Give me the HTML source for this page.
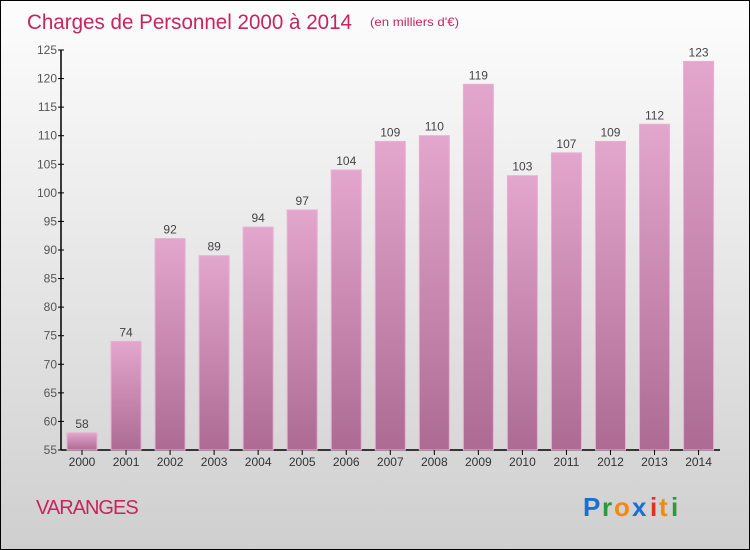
<!DOCTYPE html>
<html><head><meta charset="utf-8"><style>
body{margin:0;width:750px;height:550px;overflow:hidden;font-family:"Liberation Sans",sans-serif}
#c{position:absolute;left:0;top:0;width:748px;height:548px;border:1px solid #000;background:linear-gradient(#fdfdfd,#cfcfcf)}
</style></head><body>
<div id="c">
<svg width="750" height="550" style="position:absolute;left:-1px;top:-1px" id="svg">
<defs><linearGradient id="bg" x1="0" y1="0" x2="0" y2="1"><stop offset="0" stop-color="#e3a6cc"/><stop offset="1" stop-color="#ad6b93"/></linearGradient></defs>
<text x="27" y="29" font-size="21" fill="#c8245e" textLength="325" lengthAdjust="spacingAndGlyphs">Charges de Personnel 2000 à 2014</text>
<text x="370" y="26" font-size="12" fill="#c8245e" textLength="89" lengthAdjust="spacingAndGlyphs">(en milliers d'€)</text>
<g id="g"></g>
<text x="36" y="514" font-size="20" fill="#c8245e" letter-spacing="-1">VARANGES</text>
<g font-size="26" font-weight="bold">
<text x="583" y="516" fill="#1a6fd0">P</text><text x="602" y="516" fill="#2a9a3a">r</text><text x="614" y="516" fill="#f28a12">o</text><text x="632" y="516" fill="#1a6fd0">x</text><text x="650" y="516" fill="#e03020">i</text><text x="659" y="516" fill="#f28a12">t</text><text x="671" y="516" fill="#2a9a3a">i</text>
</g>
</svg></div>
<script>
const years=["2000","2001","2002","2003","2004","2005","2006","2007","2008","2009","2010","2011","2012","2013","2014"];
const values=[58,74,92,89,94,97,104,109,110,119,103,107,109,112,123];
const yTicks=[55,60,65,70,75,80,85,90,95,100,105,110,115,120,125];
const NS="http://www.w3.org/2000/svg";
const g=document.getElementById('g');
const y=v=>450-(v-55)*400/70;
const x=i=>82+i*44.04;
function mk(t,a,p){const e=document.createElementNS(NS,t);for(const k in a)e.setAttribute(k,a[k]);(p||g).appendChild(e);return e;}
let ax=mk('line',{x1:61,y1:50,x2:61,y2:450,stroke:'#000','stroke-width':1.5});


let bx=mk('line',{x1:61,y1:450,x2:720,y2:450,stroke:'#000','stroke-width':1.5});


yTicks.forEach(v=>{
 mk('line',{x1:58,y1:y(v),x2:64,y2:y(v),stroke:'#000'});
 let t=mk('text',{x:57,y:y(v)+4,'text-anchor':'end','font-size':12,fill:'#555'});t.textContent=v;
 
 
});
years.forEach((yr,i)=>{
 let b=mk('rect',{x:x(i)-15,y:y(values[i]),width:30,height:450-y(values[i]),fill:'url(#bg)',stroke:'#e6b0d0','stroke-width':1});
 
 
 mk('line',{x1:x(i),y1:450,x2:x(i),y2:455,stroke:'#000'});
 let t=mk('text',{x:x(i),y:466,'text-anchor':'middle','font-size':12,fill:'#333'});t.textContent=yr;
 
 
 let l=mk('text',{x:x(i),y:y(values[i])-5,'text-anchor':'middle','font-size':12,fill:'#444'});l.textContent=values[i];
 
 
});
</script>
</body></html>
